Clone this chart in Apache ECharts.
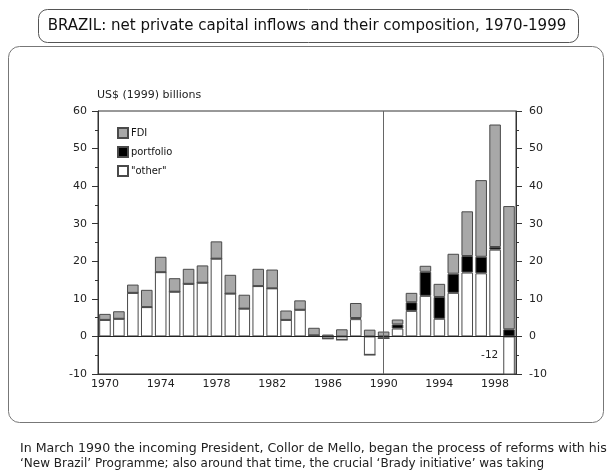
<!DOCTYPE html>
<html>
<head>
<meta charset="utf-8">
<script src="https://cdn.jsdelivr.net/npm/echarts@6/dist/echarts.min.js"></script>
<style>
  html, body { margin: 0; padding: 0; background: #fff; }
</style>
</head>
<body>
<div id="chart" style="width:612px;height:474px;"></div>
<script>
// years on the axis
var years = ['1970','1971','1972','1973','1974','1975','1976','1977','1978','1979',
  '1980','1981','1982','1983','1984','1985','1986','1987','1988','1989',
  '1990','1991','1992','1993','1994','1995','1996','1997','1998','1999']
// US$ (1999) billions
var other = [4.4, 4.7, 11.6, 7.8, 17.1, 11.9, 14.0, 14.3, 20.7, 11.4,
  7.4, 13.4, 12.8, 4.4, 7.1, 0.3, -0.6, -0.9, 4.6, -4.9,
  -0.5, 2.1, 6.8, 10.8, 4.7, 11.6, 17.0, 16.8, 23.1, -12]
var portfolio = [0, 0, 0, 0, 0, 0, 0, 0, 0, 0,
  0, 0, 0, 0, 0, 0, 0, 0, 0.3, 0,
  0, 1.1, 2.3, 6.4, 5.8, 5.1, 4.4, 4.4, 0.7, 1.9]
var fdi = [1.6, 2.0, 2.2, 4.6, 4.1, 3.6, 4.0, 4.6, 4.6, 5.0,
  3.7, 4.6, 5.0, 2.5, 2.5, 2.0, 0.5, 1.9, 4.0, 1.8,
  1.3, 1.3, 2.5, 1.6, 3.5, 5.3, 11.9, 20.4, 32.6, 32.8]

var titleText = 'BRAZIL: net private capital inflows and their composition, 1970-1999'
var noteLine1 = 'In March 1990 the incoming President, Collor de Mello, began the process of reforms with his'
var noteLine2 = '\u2018New Brazil\u2019 Programme; also around that time, the crucial \u2018Brady initiative\u2019 was taking'

var font = 'DejaVu Sans'
var narrow = '"DejaVu Sans Condensed", "DejaVu Sans"'
var edge = '#4a4a4a'

// the -12 bar runs off the bottom, so it carries its own label
var otherData = other.map(function (v, i) {
  if (v < -10) {
    return {
      value: v,
      label: { show: true, position: 'left', distance: 5, formatter: String(v), color: '#222', fontSize: 10.5, fontFamily: font }
    }
  }
  return v
})

var myChart = echarts.init(document.getElementById('chart'))
myChart.setOption({
  animation: false,
  textStyle: { fontFamily: font },
  grid: {
    left: 98, right: 96, top: 111, bottom: 100,
    show: true, borderColor: '#333', borderWidth: 1, backgroundColor: 'transparent'
  },
  legend: {
    orient: 'vertical',
    left: 117, top: 127,
    padding: 0,
    itemWidth: 10, itemHeight: 10, itemGap: 7,
    icon: 'rect',
    textStyle: { fontSize: 11, color: '#111', fontFamily: narrow, padding: [0, 0, 0, -2] },
    data: ['FDI', 'portfolio', '"other"']
  },
  xAxis: [{
    type: 'category',
    data: years,
    axisLine: { onZero: false, lineStyle: { color: '#333' } },
    axisTick: { interval: 0, alignWithLabel: true, inside: true, length: 5, lineStyle: { color: '#333' } },
    axisLabel: { interval: 3, fontSize: 11, color: '#222', margin: 5 },
    splitLine: { show: false }
  }, {
    type: 'category',
    data: years,
    position: 'bottom',
    axisLine: { show: false, onZero: false },
    axisTick: { interval: 3, alignWithLabel: true, length: 4, lineStyle: { color: '#333' } },
    axisLabel: { show: false },
    splitLine: { show: false }
  }],
  yAxis: [{
    type: 'value',
    min: -10, max: 60, interval: 10,
    name: 'US$ (1999) billions',
    nameLocation: 'end',
    nameGap: 10,
    nameTextStyle: { align: 'left', fontSize: 11, color: '#222', padding: [0, 0, 0, -1] },
    axisLine: { show: true, lineStyle: { color: '#333' } },
    axisTick: { show: true, length: 6, lineStyle: { color: '#333' } },
    minorTick: { show: true, splitNumber: 2, length: 3, lineStyle: { color: '#333' } },
    axisLabel: { fontSize: 11, color: '#222', margin: 11 },
    splitLine: { show: false }
  }, {
    type: 'value',
    min: -10, max: 60, interval: 10,
    position: 'right',
    axisLine: { show: true, lineStyle: { color: '#333' } },
    axisTick: { show: true, length: 6, lineStyle: { color: '#333' } },
    minorTick: { show: true, splitNumber: 2, length: 3, lineStyle: { color: '#333' } },
    axisLabel: { fontSize: 11, color: '#222', margin: 13 },
    splitLine: { show: false }
  }],
  series: [{
    name: '"other"',
    type: 'bar',
    stack: 'flows',
    barWidth: '83%',
    itemStyle: { color: '#ffffff', borderColor: edge, borderWidth: 1 },
    data: otherData,
    markLine: {
      silent: true,
      symbol: 'none',
      label: { show: false },
      lineStyle: { type: 'solid', width: 1 },
      data: [
        { yAxis: 0, lineStyle: { color: '#222' } },
        { xAxis: '1990', lineStyle: { color: '#666' } }
      ]
    }
  }, {
    name: 'portfolio',
    type: 'bar',
    stack: 'flows',
    barWidth: '83%',
    itemStyle: { color: '#000000', borderColor: edge, borderWidth: 1 },
    data: portfolio
  }, {
    name: 'FDI',
    type: 'bar',
    stack: 'flows',
    barWidth: '83%',
    itemStyle: { color: '#a8a8a8', borderColor: edge, borderWidth: 1 },
    data: fdi
  }],
  graphic: [{
    type: 'rect',
    shape: { x: 38.5, y: 9.5, width: 540, height: 33, r: 9 },
    style: { fill: 'none', stroke: '#555', lineWidth: 1 },
    silent: true
  }, {
    type: 'text',
    x: 307, y: 26,
    style: { text: titleText, fill: '#111', font: '16.7px ' + narrow, textAlign: 'center', textVerticalAlign: 'middle' },
    silent: true
  }, {
    type: 'rect',
    shape: { x: 8.5, y: 46.5, width: 595, height: 376, r: 11 },
    style: { fill: 'none', stroke: '#777', lineWidth: 1 },
    silent: true,
    z: -1
  }, {
    type: 'text',
    x: 20, y: 449,
    style: { text: noteLine1, fill: '#222', font: '12.6px "DejaVu Sans"', textAlign: 'left', textVerticalAlign: 'middle' },
    silent: true
  }, {
    type: 'text',
    x: 20, y: 464,
    style: { text: noteLine2, fill: '#222', font: '12px "DejaVu Sans"', textAlign: 'left', textVerticalAlign: 'middle' },
    silent: true
  }]
})
</script>
</body>
</html>
